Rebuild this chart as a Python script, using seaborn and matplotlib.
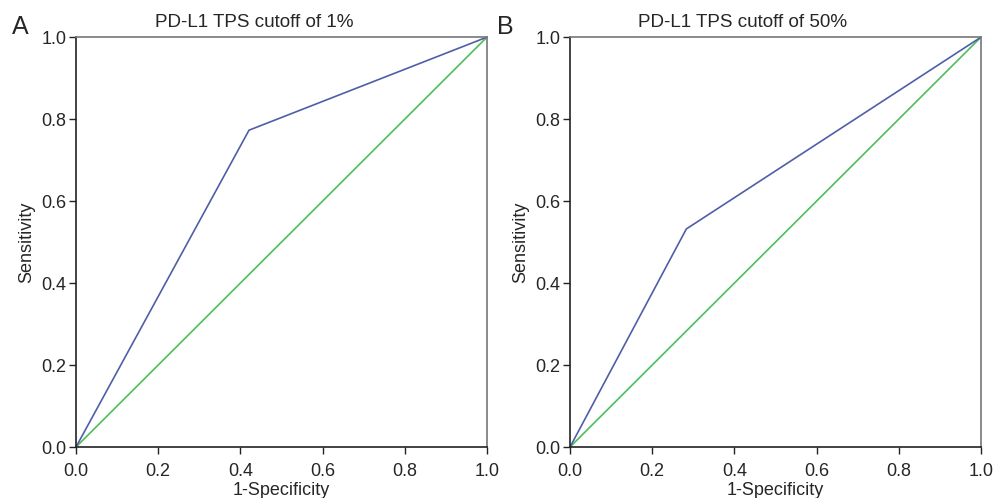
"""ROC curves for PD-L1 TPS cutoffs."""

import matplotlib
matplotlib.use("Agg")
import matplotlib.pyplot as plt
import seaborn as sns
import pandas as pd

sns.set_style("ticks")
plt.rcParams['font.family'] = ['Liberation Sans', 'DejaVu Sans']

# ROC points (1-specificity, sensitivity)
fpr_1 = [0.0, 0.421, 1.0]
tpr_1 = [0.0, 0.773, 1.0]
fpr_50 = [0.0, 0.283, 1.0]
tpr_50 = [0.0, 0.532, 1.0]
ref_line = [0.0, 1.0]

titles = ["PD-L1 TPS cutoff of 1%", "PD-L1 TPS cutoff of 50%"]
panel_labels = ["A", "B"]
ticks = [0.0, 0.2, 0.4, 0.6, 0.8, 1.0]

blue = "#4f5ea8"
green = "#4cbf5a"

fig = plt.figure(figsize=(9.95, 4.98), dpi=100)
ax_pos = [[0.0764, 0.1024, 0.413, 0.823], [0.5729, 0.1024, 0.413, 0.823]]
title_x = [0.256, 0.746]
label_x = [0.012, 0.499]

curves = [(fpr_1, tpr_1), (fpr_50, tpr_50)]
for i, (fpr, tpr) in enumerate(curves):
    ax = fig.add_axes(ax_pos[i])
    df = pd.DataFrame({"x": fpr, "y": tpr})
    ref = pd.DataFrame({"x": ref_line, "y": ref_line})
    sns.lineplot(data=ref, x="x", y="y", ax=ax, color=green, linewidth=1.2)
    sns.lineplot(data=df, x="x", y="y", ax=ax, color=blue, linewidth=1.2)
    ax.set_xlim(0, 1)
    ax.set_ylim(0, 1)
    ax.set_xticks(ticks)
    ax.set_yticks(ticks)
    ax.set_xticklabels([f"{t:.1f}" for t in ticks])
    ax.set_yticklabels([f"{t:.1f}" for t in ticks])
    ax.tick_params(labelsize=13, length=5, width=1, pad=2, color="#222222")
    ax.tick_params(axis="x", pad=6.5)
    ax.set_xlabel("1-Specificity", fontsize=13, labelpad=1.5)
    ax.set_ylabel("Sensitivity", fontsize=13, labelpad=4)
    for side in ["left", "bottom"]:
        ax.spines[side].set_color("#222222")
        ax.spines[side].set_linewidth(1.2)
    for side in ["top", "right"]:
        ax.spines[side].set_visible(True)
        ax.spines[side].set_color("#777777")
        ax.spines[side].set_linewidth(1.2)
    fig.text(title_x[i], 0.955, titles[i], ha="center", va="center", fontsize=13.6)
    fig.text(label_x[i], 0.946, panel_labels[i], ha="left", va="center", fontsize=18)

fig.savefig("out.png", dpi=100)
